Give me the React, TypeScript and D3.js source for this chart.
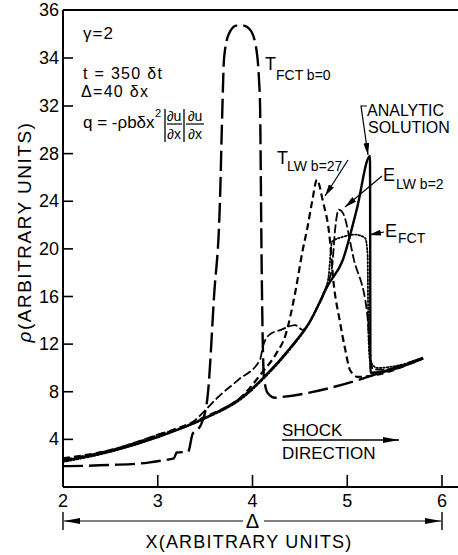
import React from "react";
import * as d3 from "d3";

const W = 458;
const H = 555;

const xTickValues = [2, 3, 4, 5, 6];
const yTickValues = [4, 8, 12, 16, 20, 24, 28, 32, 34, 36];
const yTickLabels = ["4", "8", "12", "16", "20", "24", "28", "32", "34", "36"];

// Analytic solution (solid)
const analyticX = [2.0, 2.5, 3.0, 3.5, 3.9, 4.13, 4.4, 4.6, 4.8, 4.95, 5.1, 5.24, 5.245, 5.8];
const analyticY = [2.2, 3.0, 4.2, 5.8, 7.6, 9.3, 11.7, 13.8, 17.0, 19.0, 23.3, 27.8, 9.6, 10.8];

// T_FCT b=0 (long dashes)
const tfctX = [2.0, 2.5, 2.9, 3.1, 3.17, 3.2, 3.32, 3.37, 3.42, 3.47, 3.53, 3.594, 3.657, 3.68, 3.7, 3.75, 3.83, 3.9, 3.97, 4.03, 4.07, 4.08, 4.085, 4.095, 4.11, 4.12, 4.16, 4.24, 4.3, 5.8];
const tfctY = [1.75, 1.85, 2.05, 2.3, 2.4, 2.9, 2.95, 4.5, 4.8, 5.5, 7.9, 16.0, 24.1, 31.2, 34.0, 35.0, 35.35, 35.35, 35.2, 34.6, 33.0, 32.0, 28.4, 19.8, 11.5, 9.3, 7.9, 7.5, 7.55, 10.85];

// T_LW b=27 (medium dashes)
const tlwX = [2.0, 2.5, 3.0, 3.5, 3.9, 4.1, 4.25, 4.35, 4.45, 4.53, 4.58, 4.63, 4.68, 4.74, 4.82, 4.85, 4.92, 4.98, 5.03, 5.11, 5.8];
const tlwY = [2.4, 3.1, 4.35, 5.9, 7.7, 9.6, 11.2, 12.8, 16.3, 19.9, 21.8, 24.0, 25.8, 24.1, 20.5, 17.6, 14.0, 11.5, 9.8, 9.25, 10.8];

// E_LW b=2 (dashes)
const elwX = [2.0, 2.5, 3.0, 3.37, 3.52, 3.63, 3.85, 4.08, 4.11, 4.18, 4.3, 4.45, 4.53, 4.65, 4.78, 4.84, 4.87, 4.91, 4.955, 5.07, 5.21, 5.24, 5.27, 5.35, 5.8];
const elwY = [2.3, 3.1, 4.4, 5.45, 6.6, 7.5, 9.0, 10.7, 11.8, 12.8, 13.2, 13.6, 13.2, 14.6, 16.8, 18.5, 21.5, 23.3, 23.0, 19.1, 14.6, 11.3, 9.9, 9.85, 10.8];

// E_FCT (dotted)
const efctX = [2.0, 2.5, 3.0, 3.5, 3.9, 4.13, 4.4, 4.6, 4.75, 4.8, 4.84, 4.95, 5.08, 5.19, 5.215, 5.22, 5.225, 5.24, 5.32, 5.8];
const efctY = [2.1, 2.95, 4.2, 5.75, 7.5, 9.2, 11.6, 13.8, 16.3, 17.5, 20.6, 21.0, 21.2, 20.9, 19.5, 15.0, 12.5, 10.6, 10.0, 10.8];

const FONT = "'Liberation Sans', Arial, sans-serif";

function zip(xs: number[], ys: number[]): [number, number][] {
  return xs.map((v, i) => [v, ys[i]]);
}

export default function App() {
  const x = d3.scaleLinear().domain([2, 6]).range([63, 442]);
  const y = d3.scaleLinear().domain([0, 32, 36]).range([487, 106, 10]);
  const line = d3
    .line<[number, number]>()
    .x((d) => x(d[0]))
    .y((d) => y(d[1]))
    .curve(d3.curveMonotoneX);

  const series = [
    { key: "tfct", d: zip(tfctX, tfctY), w: 2.4, dash: "20,6" },
    { key: "tlw", d: zip(tlwX, tlwY), w: 2.2, dash: "7,4" },
    { key: "elw", d: zip(elwX, elwY), w: 1.8, dash: "9,3" },
    { key: "efct", d: zip(efctX, efctY), w: 1.8, dash: "1.5,2" },
    { key: "analytic", d: zip(analyticX, analyticY), w: 2.4, dash: "none" },
  ];

  return (
    <svg
      width={W}
      height={H}
      viewBox={`0 0 ${W} ${H}`}
      style={{ position: "absolute", left: 0, top: 0, background: "#fff" }}
      fontFamily={FONT}
    >
      <defs>
        <marker id="ah" viewBox="0 0 12 6" refX="12" refY="3" markerWidth="12" markerHeight="6" markerUnits="userSpaceOnUse" orient="auto-start-reverse">
          <path d="M0,0 L12,3 L0,6 z" fill="#000" />
        </marker>
        <marker id="ah2" viewBox="0 0 16 6" refX="16" refY="3" markerWidth="16" markerHeight="6" markerUnits="userSpaceOnUse" orient="auto-start-reverse">
          <path d="M0,0 L16,3 L0,6 z" fill="#000" />
        </marker>
      </defs>
      <rect width={W} height={H} fill="#fff" />

      {/* frame */}
      <line x1={x(2)} x2={W} y1={y(36)} y2={y(36)} stroke="#000" strokeWidth={2} />
      <line x1={x(2)} x2={W} y1={y(0)} y2={y(0)} stroke="#000" strokeWidth={2.2} />
      <line x1={x(2)} x2={x(2)} y1={y(36)} y2={y(0)} stroke="#000" strokeWidth={2} />

      {/* y ticks */}
      {yTickValues.map((v, i) => (
        <g key={v}>
          <line x1={x(2)} x2={x(2) + 10} y1={y(v)} y2={y(v)} stroke="#000" strokeWidth={1.6} />
          <text x={x(2) - 4} y={y(v) + 6} textAnchor="end" fontSize={18}>
            {yTickLabels[i]}
          </text>
        </g>
      ))}

      {/* x ticks */}
      {xTickValues.map((v) => (
        <g key={v}>
          {v > 2 && <line x1={x(v)} x2={x(v)} y1={y(0)} y2={y(0) - 12} stroke="#000" strokeWidth={1.6} />}
          <text x={x(v)} y={507} textAnchor="middle" fontSize={18}>
            {v}
          </text>
        </g>
      ))}

      {/* Delta span arrow */}
      <line x1={x(2)} x2={x(2)} y1={512} y2={530} stroke="#000" strokeWidth={1.4} />
      <line x1={x(6)} x2={x(6)} y1={512} y2={530} stroke="#000" strokeWidth={1.4} />
      <line x1={x(2) + 1} x2={243} y1={521} y2={521} stroke="#000" strokeWidth={1.2} markerStart="url(#ah2)" />
      <line x1={264} x2={x(6) - 1} y1={521} y2={521} stroke="#000" strokeWidth={1.2} markerEnd="url(#ah2)" />
      <text x={x(4)} y={528} textAnchor="middle" fontSize={20}>Δ</text>

      {/* axis titles */}
      <text x={249} y={548} textAnchor="middle" fontSize={18} letterSpacing={1.2}>
        X(ARBITRARY  UNITS)
      </text>
      <text transform="translate(31,232) rotate(-90)" textAnchor="middle" fontSize={19} letterSpacing={1.5}>
        <tspan fontStyle="italic">ρ</tspan>(ARBITRARY UNITS)
      </text>

      {/* curves */}
      <g fill="none" stroke="#000" strokeLinejoin="round">
        {series.map((s) => (
          <path key={s.key} d={line(s.d) || ""} strokeWidth={s.w} strokeDasharray={s.dash} strokeLinecap={s.key === "efct" ? "round" : "butt"} />
        ))}
      </g>

      {/* parameter text */}
      <g fontSize={17} letterSpacing={1}>
        <text x={83} y={39}>γ=2</text>
      </g>
      <g fontSize={16} letterSpacing={1.3}>
        <text x={83} y={79}>t = 350 δt</text>
        <text x={81} y={97}>Δ=40 δx</text>
      </g>
      <g fontSize={17}>
        <text x={83} y={128}>q = -ρbδx</text>
        <text x={155} y={117} fontSize={11}>2</text>
        <line x1={165} x2={165} y1={109} y2={142} stroke="#000" strokeWidth={1.3} />
        <text x={174} y={121} textAnchor="middle" fontSize={14}>∂u</text>
        <line x1={167} x2={182} y1={124} y2={124} stroke="#000" strokeWidth={1.2} />
        <text x={174} y={139} textAnchor="middle" fontSize={14}>∂x</text>
        <line x1={184} x2={184} y1={109} y2={142} stroke="#000" strokeWidth={1.3} />
        <text x={195} y={121} textAnchor="middle" fontSize={14}>∂u</text>
        <line x1={186} x2={204} y1={124} y2={124} stroke="#000" strokeWidth={1.2} />
        <text x={195} y={139} textAnchor="middle" fontSize={14}>∂x</text>
      </g>

      {/* curve labels */}
      <text x={265} y={70} fontSize={18}>T</text>
      <text x={276} y={80} fontSize={14}>FCT b=0</text>

      <text x={277} y={164} fontSize={18}>T</text>
      <text x={287} y={171} fontSize={14}>LW b=27</text>
      <line x1={348} x2={325} y1={160} y2={196} stroke="#000" strokeWidth={1.2} markerEnd="url(#ah)" />

      <text x={367} y={116} fontSize={16}>ANALYTIC</text>
      <text x={368} y={133} fontSize={16}>SOLUTION</text>
      <polyline points="367,106 361,106 368,155" fill="none" stroke="#000" strokeWidth={1.2} markerEnd="url(#ah)" />

      <text x={383} y={181} fontSize={18}>E</text>
      <text x={396} y={189} fontSize={14}>LW b=2</text>
      <line x1={382} x2={345} y1={176} y2={207} stroke="#000" strokeWidth={1.2} markerEnd="url(#ah)" />

      <text x={385} y={237} fontSize={18}>E</text>
      <text x={398} y={243} fontSize={14}>FCT</text>
      <line x1={384} x2={369} y1={232} y2={235} stroke="#000" strokeWidth={1.2} markerEnd="url(#ah)" />

      {/* shock direction */}
      <text x={282} y={436} fontSize={17}>SHOCK</text>
      <line x1={282} x2={399} y1={440} y2={440} stroke="#000" strokeWidth={1.3} markerEnd="url(#ah2)" />
      <text x={282} y={459} fontSize={17}>DIRECTION</text>
    </svg>
  );
}
